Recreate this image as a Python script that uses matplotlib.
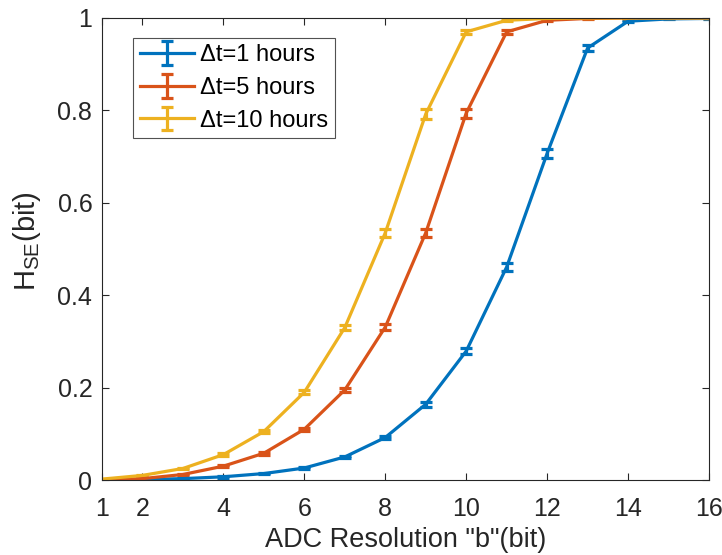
import matplotlib
matplotlib.use("Agg")
import matplotlib.pyplot as plt
import numpy as np

plt.rcParams['font.family'] = ['Liberation Sans', 'DejaVu Sans']

bits = [1, 2, 3, 4, 5, 6, 7, 8, 9, 10, 11, 12, 13, 14, 15, 16]
h_1h = [0.0, 0.001, 0.003, 0.007, 0.014, 0.026, 0.050, 0.092, 0.164, 0.279, 0.461, 0.707, 0.935, 0.993, 0.998, 0.999]
h_5h = [0.0, 0.003, 0.012, 0.030, 0.058, 0.110, 0.195, 0.331, 0.535, 0.794, 0.970, 0.995, 0.999, 1.0, 1.0, 1.0]
h_10h = [0.002, 0.010, 0.025, 0.055, 0.105, 0.190, 0.330, 0.535, 0.792, 0.970, 0.995, 0.999, 1.0, 1.0, 1.0, 1.0]
err_1h = [0.0005, 0.001, 0.001, 0.002, 0.002, 0.003, 0.003, 0.004, 0.005, 0.006, 0.008, 0.010, 0.006, 0.002, 0.001, 0.001]
err_5h = [0.0005, 0.001, 0.002, 0.002, 0.003, 0.003, 0.004, 0.006, 0.009, 0.010, 0.004, 0.002, 0.001, 0.001, 0.001, 0.001]
err_10h = [0.001, 0.001, 0.002, 0.003, 0.003, 0.004, 0.006, 0.009, 0.010, 0.004, 0.002, 0.001, 0.001, 0.001, 0.001, 0.001]
labels = ['\u0394t=1 hours', '\u0394t=5 hours', '\u0394t=10 hours']
colors = ['#0072BD', '#D95319', '#EDB120']
xticks = [1, 2, 4, 6, 8, 10, 12, 14, 16]
yticks = [0, 0.2, 0.4, 0.6, 0.8, 1]
yticklabels = ['0', '0.2', '0.4', '0.6', '0.8', '1']

fig = plt.figure(figsize=(7.22, 5.55), dpi=100)
ax = fig.add_axes([0.1413, 0.1351, 0.8407, 0.8325])

for y, e, c, lab in zip([h_1h, h_5h, h_10h], [err_1h, err_5h, err_10h], colors, labels):
    ax.errorbar(bits, y, yerr=e, color=c, lw=2.3, capsize=4.5, capthick=2.3,
                elinewidth=2.3, label=lab)

ax.set_xlim(1, 16)
ax.set_ylim(0, 1)
ax.set_xticks(xticks)
ax.set_yticks(yticks)
ax.set_yticklabels(yticklabels)
ax.tick_params(direction='in', top=True, right=True, labelsize=18, length=5,
               width=0.8, colors='#262626')
ax.tick_params(axis='x', pad=12)
ax.tick_params(axis='y', pad=7)
for s in ax.spines.values():
    s.set_color('#262626')
    s.set_linewidth(0.8)
ax.set_xlabel('ADC Resolution "b"(bit)', fontsize=19.5, color='#262626')
ax.set_ylabel('H$_{\\mathregular{SE}}$(bit)', fontsize=21, color='#262626')
ax.xaxis.set_label_coords(0.5, -0.102)
ax.yaxis.set_label_coords(-0.098, 0.517)

leg = ax.legend(loc='upper left', bbox_to_anchor=(0.051, 0.957), borderaxespad=0,
                fontsize=17, frameon=True, fancybox=False, edgecolor='#262626',
                handlelength=2.3, handletextpad=0.25, labelspacing=0.45,
                borderpad=0.28)
leg.get_frame().set_linewidth(0.8)

fig.savefig('out.png', dpi=100)
